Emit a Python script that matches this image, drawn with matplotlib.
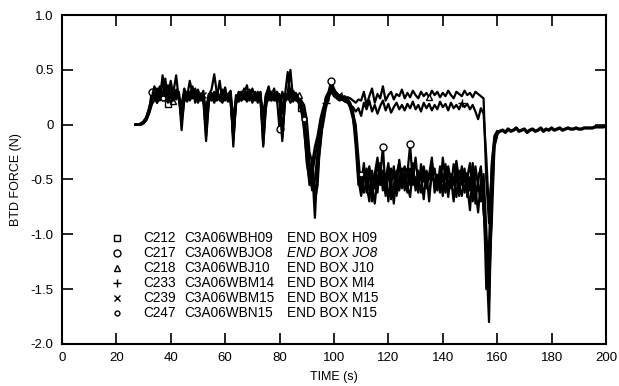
import numpy as np
import matplotlib.pyplot as plt

plt.rcParams['font.family'] = ['Liberation Sans', 'DejaVu Sans']

# sampling times (s) for the recorded part and the quiet tail
time = np.arange(27, 161, 1.0)
time_tail = np.arange(161, 201, 1.0)

c212 = [0.00, 0.00, 0.01, 0.03, 0.07, 0.14, 0.22, 0.26, 0.20, 0.30,
        0.38, 0.22, 0.19, 0.28, 0.33, 0.24, 0.30, 0.02, 0.22, 0.27,
        0.30, 0.25, 0.33, 0.22, 0.28, 0.26, -0.10, 0.20, 0.29, 0.24,
        0.31, 0.22, 0.27, 0.34, 0.21, 0.25, -0.15, 0.18, 0.28, 0.30,
        0.23, 0.26, 0.32, 0.20, 0.27, 0.24, 0.29, -0.18, 0.15, 0.30,
        0.26, 0.33, 0.21, 0.25, -0.12, 0.20, 0.28, 0.24, 0.31, 0.27,
        0.22, 0.15, -0.05, -0.30, -0.55, -0.40, -0.85, -0.35, -0.20, 0.05,
        0.18, 0.22, 0.38, 0.30, 0.27, 0.25, 0.24, 0.26, 0.22, 0.15,
        0.05, -0.10, -0.40, -0.55, -0.35, -0.62, -0.40, -0.70, -0.45, -0.30,
        -0.55, -0.42, -0.65, -0.38, -0.50, -0.72, -0.45, -0.35, -0.58, -0.48,
        -0.62, -0.40, -0.52, -0.30, -0.55, -0.45, -0.68, -0.42, -0.50, -0.35,
        -0.48, -0.60, -0.38, -0.52, -0.42, -0.66, -0.45, -0.55, -0.33, -0.50,
        -0.40, -0.62, -0.48, -0.35, -0.70, -0.45, -0.52, -0.38, -0.75, -1.20,
        -1.80, -0.60, -0.15, -0.08]

c217 = [0.00, 0.00, 0.00, 0.02, 0.05, 0.12, 0.30, 0.24, 0.28, 0.35,
        0.25, 0.42, 0.20, 0.26, 0.30, 0.45, 0.22, 0.10, 0.28, 0.24,
        0.26, 0.35, 0.20, 0.29, 0.24, 0.31, 0.05, 0.25, 0.22, 0.30,
        0.25, 0.40, 0.22, 0.28, 0.24, 0.30, -0.20, 0.25, 0.21, 0.27,
        0.33, 0.22, 0.28, 0.25, 0.30, 0.22, 0.26, -0.05, 0.27, 0.35,
        0.22, 0.28, 0.25, -0.04, 0.30, 0.23, 0.27, 0.33, 0.21, 0.28,
        0.25, 0.20, 0.10, -0.20, -0.45, -0.60, -0.50, -0.25, -0.05, 0.10,
        0.25, 0.30, 0.40, 0.33, 0.28, 0.24, 0.27, 0.22, 0.25, 0.18,
        0.10, 0.00, -0.30, -0.60, -0.45, -0.55, -0.70, -0.42, -0.58, -0.35,
        -0.48, -0.20, -0.62, -0.45, -0.55, -0.38, -0.65, -0.50, -0.40, -0.60,
        -0.45, -0.18, -0.55, -0.48, -0.62, -0.36, -0.52, -0.44, -0.70, -0.40,
        -0.55, -0.46, -0.62, -0.30, -0.50, -0.42, -0.58, -0.36, -0.48, -0.65,
        -0.38, -0.52, -0.44, -0.60, -0.35, -0.72, -0.48, -0.40, -0.80, -1.05,
        -1.40, -0.90, -0.20, -0.10]

c218 = [0.00, 0.00, 0.01, 0.02, 0.06, 0.15, 0.24, 0.35, 0.28, 0.22,
        0.45, 0.30, 0.25, 0.38, 0.22, 0.30, 0.26, 0.18, 0.33, 0.25,
        0.40, 0.28, 0.23, 0.30, 0.26, 0.20, 0.15, 0.27, 0.32, 0.46,
        0.28, 0.24, 0.30, 0.22, 0.27, 0.31, 0.05, 0.24, 0.29, 0.22,
        0.28, 0.36, 0.24, 0.27, 0.22, 0.30, 0.25, 0.10, 0.26, 0.32,
        0.28, 0.24, 0.30, 0.22, 0.10, 0.27, 0.48, 0.25, 0.30, 0.22,
        0.27, 0.22, 0.18, 0.05, -0.25, -0.35, -0.20, -0.10, 0.05, 0.15,
        0.22, 0.28, 0.32, 0.30, 0.27, 0.26, 0.25, 0.24, 0.25, 0.24,
        0.22, 0.20, 0.23, 0.22, 0.30, 0.18, 0.26, 0.33, 0.20, 0.28,
        0.24, 0.35, 0.22, 0.27, 0.30, 0.23, 0.28, 0.26, 0.32, 0.24,
        0.29, 0.25, 0.31, 0.27, 0.24, 0.30, 0.26, 0.29, 0.25, 0.31,
        0.27, 0.30, 0.25, 0.29, 0.26, 0.31, 0.27, 0.24, 0.30, 0.28,
        0.26, 0.31, 0.27, 0.29, 0.25, 0.30, 0.28, 0.26, 0.24, -0.50,
        -0.90, -0.40, -0.12, -0.06]

c233 = [0.00, 0.00, 0.00, 0.02, 0.04, 0.10, 0.18, 0.25, 0.20, 0.27,
        0.22, 0.30, 0.24, 0.20, 0.27, 0.23, 0.28, -0.05, 0.25, 0.21,
        0.27, 0.24, 0.29, 0.20, 0.25, 0.22, -0.15, 0.22, 0.26, 0.20,
        0.27, 0.23, 0.20, 0.26, 0.22, 0.28, -0.10, 0.20, 0.25, 0.22,
        0.26, 0.21, 0.25, 0.22, 0.28, 0.20, 0.24, -0.20, 0.20, 0.25,
        0.22, 0.27, 0.21, 0.24, -0.15, 0.22, 0.26, 0.20, 0.25, 0.23,
        0.20, 0.12, 0.02, -0.15, -0.40, -0.50, -0.65, -0.45, -0.15, 0.08,
        0.20, 0.25, 0.30, 0.26, 0.24, 0.22, 0.23, 0.21, 0.20, 0.18,
        0.16, 0.12, 0.15, 0.08, 0.20, 0.14, 0.22, 0.12, 0.18, 0.10,
        0.17, 0.22, 0.13, 0.19, 0.11, 0.16, 0.20, 0.14, 0.18, 0.13,
        0.19, 0.15, 0.21, 0.14, 0.18, 0.12, 0.20, 0.15, 0.19, 0.13,
        0.18, 0.14, 0.21, 0.16, 0.19, 0.13, 0.20, 0.15, 0.18, 0.14,
        0.20, 0.16, 0.19, 0.14, 0.18, 0.12, 0.05, 0.15, 0.10, -0.30,
        -0.80, -0.50, -0.15, -0.07]

c239 = [0.00, 0.00, 0.01, 0.03, 0.06, 0.13, 0.21, 0.28, 0.33, 0.25,
        0.30, 0.24, 0.36, 0.27, 0.22, 0.32, 0.25, 0.05, 0.30, 0.26,
        0.23, 0.28, 0.24, 0.30, 0.22, 0.27, 0.00, 0.24, 0.28, 0.23,
        0.30, 0.25, 0.22, 0.29, 0.26, 0.23, -0.12, 0.22, 0.30, 0.26,
        0.24, 0.30, 0.22, 0.27, 0.25, 0.29, 0.22, -0.10, 0.24, 0.28,
        0.25, 0.22, 0.30, 0.26, -0.08, 0.24, 0.29, 0.50, 0.22, 0.26,
        0.23, 0.18, 0.00, -0.35, -0.50, -0.30, -0.70, -0.55, -0.10, 0.00,
        0.15, 0.26, 0.33, 0.28, 0.26, 0.27, 0.25, 0.24, 0.23, 0.20,
        0.12, -0.05, -0.50, -0.65, -0.50, -0.40, -0.60, -0.55, -0.72, -0.48,
        -0.40, -0.60, -0.50, -0.35, -0.68, -0.55, -0.42, -0.60, -0.45, -0.38,
        -0.56, -0.66, -0.40, -0.55, -0.48, -0.62, -0.40, -0.58, -0.45, -0.30,
        -0.62, -0.50, -0.44, -0.65, -0.36, -0.55, -0.48, -0.70, -0.40, -0.56,
        -0.65, -0.44, -0.55, -0.78, -0.42, -0.58, -0.80, -0.50, -0.62, -1.50,
        -1.10, -0.35, -0.10, -0.06]

c247 = [0.00, 0.00, 0.00, 0.01, 0.04, 0.10, 0.19, 0.22, 0.25, 0.28,
        0.24, 0.28, 0.22, 0.40, 0.25, 0.28, 0.24, 0.20, 0.26, 0.30,
        0.22, 0.27, 0.25, 0.32, 0.24, 0.26, 0.12, 0.28, 0.23, 0.27,
        0.22, 0.26, 0.32, 0.24, 0.28, 0.20, -0.05, 0.27, 0.23, 0.30,
        0.25, 0.28, 0.23, 0.33, 0.24, 0.27, 0.30, 0.00, 0.28, 0.22,
        0.30, 0.26, 0.23, 0.28, 0.15, 0.26, 0.23, 0.30, 0.25, 0.29,
        0.24, 0.18, 0.05, -0.10, -0.35, -0.45, -0.30, -0.15, 0.00, 0.12,
        0.24, 0.28, 0.35, 0.31, 0.29, 0.26, 0.24, 0.25, 0.21, 0.16,
        0.08, -0.20, -0.55, -0.45, -0.62, -0.50, -0.38, -0.58, -0.48, -0.62,
        -0.35, -0.52, -0.45, -0.70, -0.40, -0.48, -0.58, -0.32, -0.52, -0.44,
        -0.40, -0.55, -0.35, -0.60, -0.42, -0.50, -0.38, -0.55, -0.62, -0.45,
        -0.40, -0.58, -0.50, -0.45, -0.62, -0.38, -0.52, -0.48, -0.66, -0.42,
        -0.55, -0.40, -0.66, -0.48, -0.60, -0.38, -0.55, -0.70, -0.45, -0.95,
        -1.60, -0.70, -0.18, -0.09]

# all gauges settle together after ~160 s
tail = [-0.06, -0.05, -0.07, -0.04, -0.06, -0.05, -0.03, -0.06, -0.05, -0.04,
        -0.07, -0.05, -0.04, -0.06, -0.05, -0.03, -0.06, -0.04, -0.05, -0.03,
        -0.05, -0.04, -0.03, -0.05, -0.04, -0.03, -0.04, -0.04, -0.03, -0.04,
        -0.04, -0.03, -0.03, -0.03, -0.03, -0.02, -0.02, -0.02, -0.02, -0.01]

names = ['C212', 'C217', 'C218', 'C233', 'C239', 'C247']
gauges = ['C3A06WBH09', 'C3A06WBJO8', 'C3A06WBJ10', 'C3A06WBM14', 'C3A06WBM15', 'C3A06WBN15']
boxes = ['END BOX H09', 'END BOX JO8', 'END BOX J10', 'END BOX MI4', 'END BOX M15', 'END BOX N15']
series = [c212, c217, c218, c233, c239, c247]
markers = ['s', 'o', '^', '+', 'x', 'o']
msizes = [5, 5, 5, 6, 5, 3.5]
mark_idx = [[12, 61, 110], [6, 53, 72, 91, 101], [14, 60, 108],
            [20, 70, 120], [25, 75, 125], [10, 62, 83]]

fig = plt.figure(figsize=(6.19, 3.86), dpi=100)
ax = fig.add_axes([0.100, 0.109, 0.879, 0.852])

for y, m, ms, idx in zip(series, markers, msizes, mark_idx):
    ax.plot(time, y, color='black', lw=1.6, marker=m, ms=ms, mfc='white',
            mec='black', mew=1.0, markevery=idx)
ax.plot(time_tail, tail, color='black', lw=2.4)
ax.plot([time[-1], time_tail[0]], [c247[-1], tail[0]], color='black', lw=1.6)

ax.set_xlim(0, 200)
ax.set_ylim(-2.0, 1.0)
ax.set_xticks(np.arange(0, 201, 20))
ax.set_yticks([-2.0, -1.5, -1.0, -0.5, 0, 0.5, 1.0])
ax.set_yticklabels(['-2.0', '-1.5', '-1.0', '-0.5', '0', '0.5', '1.0'])
ax.tick_params(direction='in', length=8, width=1.2, top=True, right=True,
               labelsize=9.5, pad=6)
for s in ax.spines.values():
    s.set_linewidth(1.5)

ax.set_xlabel('TIME (s)', fontsize=9, labelpad=5)
ax.set_ylabel('BTD FORCE (N)', fontsize=9, labelpad=6)

# legend drawn as a table of symbol / channel / gauge / location
row_y = [0.322, 0.277, 0.231, 0.185, 0.140, 0.094]
for i in range(6):
    ax.plot([0.101], [row_y[i]], transform=ax.transAxes, marker=markers[i],
            ms=msizes[i], mfc='white', mec='black', mew=1.0, ls='none')
    ax.text(0.149, row_y[i], names[i], transform=ax.transAxes, fontsize=9.8, va='center')
    ax.text(0.224, row_y[i], gauges[i], transform=ax.transAxes, fontsize=9.8, va='center')
    ax.text(0.414, row_y[i], boxes[i], transform=ax.transAxes, fontsize=9.8, va='center',
            style='italic' if i == 1 else 'normal')

fig.savefig('out.png', dpi=100)
